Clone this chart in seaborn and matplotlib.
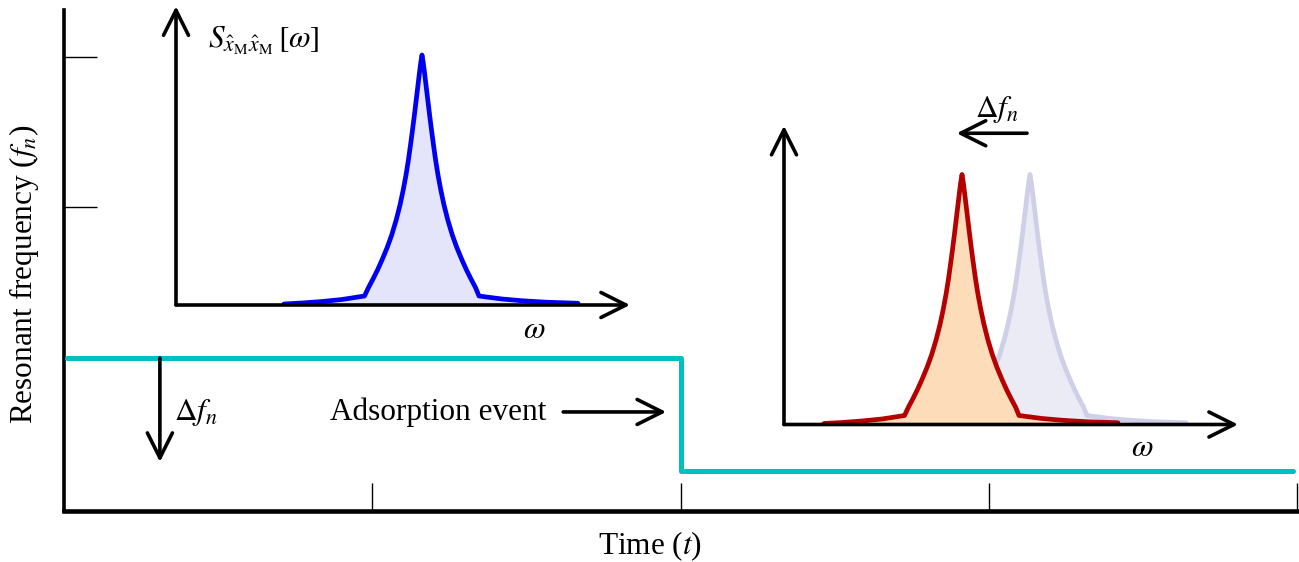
import matplotlib
matplotlib.use("Agg")
import matplotlib.pyplot as plt
import seaborn as sns

# Resonant frequency vs. time: a single downward step at the adsorption event
time_pts = [0.01, 2.0, 3.985]
freq_pts = [1.0, 0.25, 0.25]

time_ticks = [1, 2, 3, 4]
freq_ticks = [1, 2, 3]

# Mechanical spectrum peak: offset from resonance and normalised power
peak_offset = [-1.38, -1.20, -1.00, -0.80, -0.575, -0.535, -0.495, -0.445,
               -0.40, -0.348, -0.303, -0.258, -0.22, -0.188, -0.16, -0.136,
               -0.115, -0.095, -0.076, -0.058, -0.04, -0.025, -0.012, 0.0,
               0.012, 0.025, 0.04, 0.058, 0.076, 0.095, 0.115, 0.136, 0.16,
               0.188, 0.22, 0.258, 0.303, 0.348, 0.40, 0.445, 0.495, 0.535,
               0.57, 0.80, 1.00, 1.25, 1.56]
peak_power = [0.004, 0.008, 0.014, 0.022, 0.036, 0.07, 0.10, 0.14,
              0.18, 0.23, 0.28, 0.34, 0.40, 0.46, 0.52, 0.58,
              0.64, 0.70, 0.76, 0.82, 0.88, 0.93, 0.97, 1.0,
              0.97, 0.93, 0.88, 0.82, 0.76, 0.70, 0.64, 0.58, 0.52,
              0.46, 0.40, 0.34, 0.28, 0.23, 0.18, 0.14, 0.10, 0.07,
              0.036, 0.024, 0.017, 0.011, 0.007]

# Resonance position before and after adsorption
res_before = 2.46
res_after = 1.78

CYAN = "#00BFBF"
BLUE, BLUE_FILL = "#0000F0", "#E4E4FA"
RED, RED_FILL = "#B40000", "#FDDCBA"
GREY, GREY_FILL = "#CFD0E8", "#EBEBF6"
FS = 22.5

sns.set_theme(style="white")
plt.rcParams["font.family"] = ["Liberation Serif", "DejaVu Serif"]
plt.rcParams["mathtext.fontset"] = "stix"
plt.rcParams["text.color"] = "black"

W, H = 1299, 562
fig = plt.figure(figsize=(W / 100, H / 100), dpi=100)


def box(x0, y_top, x1, y_bot):
    """Pixel box (top-left origin) to figure fractions."""
    return [x0 / W, 1 - y_bot / H, (x1 - x0) / W, (y_bot - y_top) / H]


# ---- main time trace ----
ax = fig.add_axes(box(64, 10, 1297.3, 511))
sns.lineplot(x=time_pts, y=freq_pts, drawstyle="steps-post", color=CYAN,
             lw=3.6, estimator=None, ax=ax, zorder=3)
ax.set_xlim(0, 4)
ax.set_ylim(-0.0155, 3.31)
ax.set_xticks(time_ticks)
ax.set_yticks(freq_ticks)
ax.tick_params(axis="both", direction="in", bottom=True, left=True,
               labelbottom=False, labelleft=False, color="black", width=1.0)
ax.tick_params(axis="x", length=20)
ax.tick_params(axis="y", length=24)
sns.despine(ax=ax)
ax.spines["left"].set_linewidth(2.6)
ax.spines["bottom"].set_linewidth(3.3)
for s in ("left", "bottom"):
    ax.spines[s].set_color("black")
ax.patch.set_alpha(0)

ax.set_xlabel("Time ($t$)", fontsize=FS, color="black")
ax.xaxis.set_label_coords(0.475, -0.036)
ax.set_ylabel("Resonant frequency ($f_n$)", fontsize=FS, color="black")
ax.yaxis.set_label_coords(-0.019, 0.473)

arrow_kw = dict(arrowstyle="->,head_length=0.9,head_width=0.45", lw=2.6,
                color="black", mutation_scale=20, shrinkA=0, shrinkB=0)

# frequency shift arrow and label
ax.annotate("", xy=(0.311, 0.31), xytext=(0.311, 1.0),
            arrowprops=arrow_kw, annotation_clip=False)
ax.text(0.357, 0.588, r"$\Delta f_n$", fontsize=FS, ha="left", va="baseline")

# adsorption event label and arrow
ax.text(0.863, 0.588, "Adsorption event", fontsize=FS, ha="left", va="baseline")
ax.annotate("", xy=(1.953, 0.642), xytext=(1.619, 0.642),
            arrowprops=arrow_kw, annotation_clip=False)


# ---- spectrum panels ----
def spectrum_axes(x0, y0):
    a = fig.add_axes(box(x0, y0 - 300, x0 + 454, y0))
    a.set_xlim(0, 4.54)
    a.set_ylim(0, 1.2)
    a.axis("off")
    return a


def draw_axes_arrows(a):
    a.annotate("", xy=(4.54, 0), xytext=(0, 0), arrowprops=arrow_kw,
               annotation_clip=False, zorder=5)
    a.annotate("", xy=(0, 1.195), xytext=(0, 0), arrowprops=arrow_kw,
               annotation_clip=False, zorder=5)


def draw_peak(a, centre, line_c, fill_c, z):
    xs = [centre + o for o in peak_offset]
    a.fill_between(xs, 0, peak_power, color=fill_c, lw=0, zorder=z)
    sns.lineplot(x=xs, y=peak_power, color=line_c, lw=3.4, sort=False,
                 estimator=None, ax=a, zorder=z + 0.5,
                 solid_joinstyle="round", solid_capstyle="round")


# before adsorption
ax1 = spectrum_axes(176, 305)
draw_peak(ax1, res_before, BLUE, BLUE_FILL, 2)
draw_axes_arrows(ax1)
ax1.text(0.32, 1.028, r"$S_{\hat{x}_{\mathrm{M}}\hat{x}_{\mathrm{M}}}\,[\omega]$",
         fontsize=FS, ha="left", va="baseline")
ax1.text(3.58, -0.1, r"$\omega$", fontsize=FS, ha="center", va="center")

# after adsorption
ax2 = spectrum_axes(784, 424.5)
draw_peak(ax2, res_before, GREY, GREY_FILL, 2)
draw_peak(ax2, res_after, RED, RED_FILL, 3)
draw_axes_arrows(ax2)
ax2.text(3.58, -0.094, r"$\omega$", fontsize=FS, ha="center", va="center")
ax2.text(1.91, 1.23, r"$\Delta f_n$", fontsize=FS, ha="left", va="baseline")
ax2.annotate("", xy=(1.727, 1.165), xytext=(2.43, 1.165),
             arrowprops=arrow_kw, annotation_clip=False)

fig.savefig("out.png", dpi=100)
